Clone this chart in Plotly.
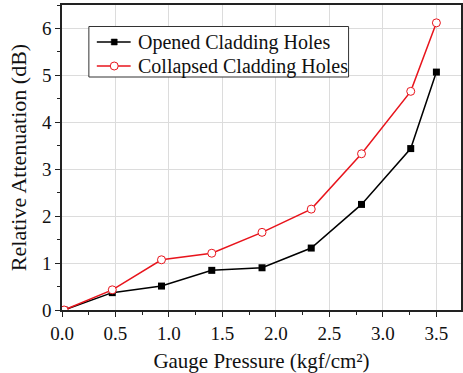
import plotly.graph_objects as go

pressure = [0.02, 0.47, 0.93, 1.40, 1.87, 2.33, 2.80, 3.26, 3.50]
opened = [0.0, 0.37, 0.51, 0.845, 0.90, 1.32, 2.25, 3.44, 5.07]
collapsed = [0.0, 0.43, 1.07, 1.21, 1.655, 2.15, 3.33, 4.66, 6.12]
series_names = ["Opened Cladding Holes", "Collapsed Cladding Holes"]

x_ticks = [0.0, 0.5, 1.0, 1.5, 2.0, 2.5, 3.0, 3.5]
x_tick_labels = ["0.0", "0.5", "1.0", "1.5", "2.0", "2.5", "3.0", "3.5"]
y_ticks = [0, 1, 2, 3, 4, 5, 6]

font_family = "Liberation Serif"
RED = "#e8141c"
W, H = 463, 373
ML, MR, MT, MB = 62, 0, 5, 63
PW, PH = W - ML - MR, H - MT - MB


def px(x):
    return (x - ML) / PW


def py(y):
    return (H - MB - y) / PH


fig = go.Figure()
fig.add_trace(go.Scatter(
    x=pressure, y=opened, mode="lines+markers", name=series_names[0],
    line=dict(color="black", width=1.5),
    marker=dict(symbol="square", size=7, color="black"),
    showlegend=False,
))
fig.add_trace(go.Scatter(
    x=pressure, y=collapsed, mode="lines+markers", name=series_names[1],
    line=dict(color=RED, width=1.5),
    marker=dict(symbol="circle", size=8, color="white", line=dict(color=RED, width=1)),
    showlegend=False,
))

# manual legend (box, sample lines, sample markers, labels)
shapes = [
    dict(type="rect", xref="paper", yref="paper",
         x0=px(89), x1=px(350), y0=py(77), y1=py(26.5),
         line=dict(color="#333", width=1), fillcolor="white", layer="above"),
]
annotations = []
rows = [(42, "black", "square"), (66, RED, "circle")]
for (yc, col, sym), name in zip(rows, series_names):
    shapes.append(dict(type="line", xref="paper", yref="paper",
                       x0=px(97), x1=px(131), y0=py(yc), y1=py(yc),
                       line=dict(color=col, width=1.5), layer="above"))
    if sym == "square":
        shapes.append(dict(type="rect", xref="paper", yref="paper",
                           x0=px(111.5), x1=px(117.5), y0=py(yc + 3), y1=py(yc - 3),
                           line=dict(color=col, width=0.5), fillcolor=col, layer="above"))
    else:
        shapes.append(dict(type="circle", xref="paper", yref="paper",
                           x0=px(110.5), x1=px(118.5), y0=py(yc + 4), y1=py(yc - 4),
                           line=dict(color=col, width=1), fillcolor="white", layer="above"))
    annotations.append(dict(xref="paper", yref="paper", x=px(136), y=py(yc + 0.5),
                            xanchor="left", yanchor="middle", showarrow=False,
                            text=name, font=dict(family=font_family, size=20, color="#111")))

fig.update_layout(
    width=W, height=H,
    margin=dict(l=ML, r=MR, t=MT, b=MB),
    paper_bgcolor="white", plot_bgcolor="white",
    font=dict(family=font_family, size=18, color="#111"),
    showlegend=False,
    shapes=shapes,
    annotations=annotations,
)
fig.update_xaxes(
    range=[0, 3.73], tickvals=x_ticks, ticktext=x_tick_labels,
    showgrid=True, gridcolor="#dcdcdc", gridwidth=1,
    showline=True, linecolor="#222", linewidth=1.5, mirror=True,
    ticks="outside", ticklen=5, tickcolor="#222",
    minor=dict(dtick=0.25, ticks="outside", ticklen=3, tickcolor="#222", showgrid=False),
    tickfont=dict(family=font_family, size=19),
    title=dict(text="Gauge Pressure (kgf/cm²)", font=dict(family=font_family, size=21), standoff=12),
    zeroline=False,
)
fig.update_yaxes(
    range=[0, 6.5], tickvals=y_ticks,
    showgrid=True, gridcolor="#dcdcdc", gridwidth=1,
    showline=True, linecolor="#222", linewidth=1.5, mirror=True,
    ticks="outside", ticklen=5, tickcolor="#222",
    minor=dict(dtick=0.5, ticks="outside", ticklen=3, tickcolor="#222", showgrid=False),
    tickfont=dict(family=font_family, size=19),
    title=dict(text="Relative Attenuation (dB)", font=dict(family=font_family, size=22), standoff=9),
    zeroline=False,
)

fig.write_html("out.html")
